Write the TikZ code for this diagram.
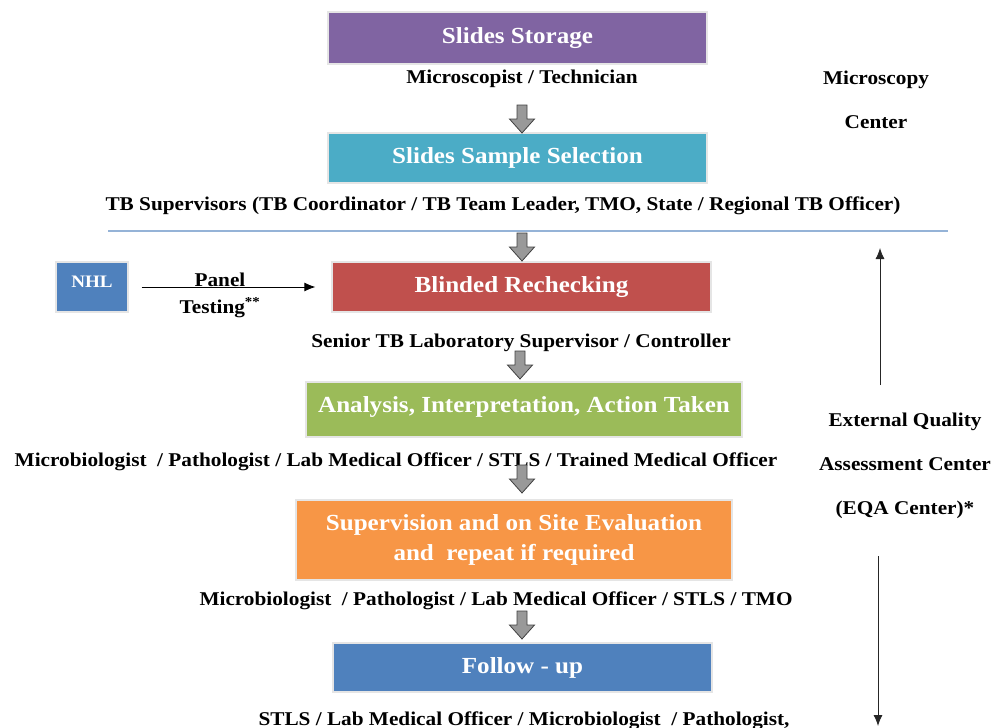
\documentclass[tikz,border=0pt]{standalone}
\usepackage{fontspec}
\setmainfont{Liberation Serif}[FakeStretch=1.09]
\usetikzlibrary{arrows,arrows.meta,positioning}
\definecolor{storagepurple}{HTML}{8064A2}
\definecolor{selectaqua}{HTML}{4BACC6}
\definecolor{blindred}{HTML}{C0504D}
\definecolor{analysisgreen}{HTML}{9BBB59}
\definecolor{supervorange}{HTML}{F79646}
\definecolor{followblue}{HTML}{4F81BD}
\definecolor{ruleblue}{HTML}{95B3D7}
\begin{document}
\begin{tikzpicture}
			[
				x=1pt, y=-1pt,
				box/.style={draw=black!10, line width=1.2pt, text=white, inner sep=0pt,
					align=center, font=\bfseries\fontsize{23}{30}\selectfont},
				role/.style={inner sep=0pt, align=center, font=\bfseries\fontsize{19.5}{22}\selectfont},
				sidelabel/.style={inner sep=0pt, align=center, font=\bfseries\fontsize{19.5}{44}\selectfont},
				blockarrow/.style={fill=black!40, draw=black!75, line width=0.8pt},
				thinarrow/.style={-{Latex[length=11pt,width=9pt]}, line width=0.9pt, black!85}
			]
			\useasboundingbox (0,0) rectangle (996,728);

			% process boxes
			\node[box,fill=storagepurple,minimum width=379,minimum height=52] (storage) at (517.5, 38.0) {Slides Storage};
			\node[box,fill=selectaqua,minimum width=379,minimum height=50] (select) at (517.5,158.0) {Slides Sample Selection};
			\node[box,fill=blindred,minimum width=379,minimum height=50] (blind) at (521.5,287.0) {Blinded Rechecking};
			\node[box,fill=analysisgreen,minimum width=436,minimum height=55,text depth=9] (analysis) at (524.0,409.5) {Analysis, Interpretation, Action Taken};
			\node[box,fill=supervorange,minimum width=436,minimum height=80] (superv) at (514.0,540.0) {Supervision and on Site Evaluation\\and\ \ repeat if required};
			\node[box,fill=followblue,minimum width=379,minimum height=49] (follow) at (522.5,667.5) {Follow - up};
			\node[box,fill=followblue,minimum width=72,minimum height=50,text height=12,text depth=12,
				font=\bfseries\fontsize{17.5}{22}\selectfont] (nhl) at ( 92.0,287.0) {NHL};

			% who does it
			\node[role] (r1) at (522.0, 78.5) {Microscopist / Technician};
			\node[role] (r2) at (503.0,205.5) {TB Supervisors (TB Coordinator / TB Team Leader, TMO, State / Regional TB Officer)};
			\node[role] (r3) at (521.0,342.5) {Senior TB Laboratory Supervisor / Controller};
			\node[role] (r4) at (396.0,461.5) {Microbiologist\ \ / Pathologist / Lab Medical Officer / STLS / Trained Medical Officer};
			\node[role] (r5) at (496.0,600.5) {Microbiologist\ \ / Pathologist / Lab Medical Officer / STLS / TMO};
			\node[role] (r6) at (524.0,720.5) {STLS / Lab Medical Officer / Microbiologist\ \ / Pathologist,};

			% centres on the right
			\node[sidelabel] (micro) at (876.0, 99.5) {Microscopy\\Center};
			\node[sidelabel] (eqa) at (905.0,466.0) {External Quality\\Assessment Center\\(EQA Center)*};

			% separator
			\coordinate (ruleleft) at (108,231);
			\coordinate (ruleright) at (948,231);
			\draw[ruleblue, line width=1.2pt] (ruleleft) -- (ruleright);

			% block arrows between the steps
			\foreach \ax/\ay in {522/105, 522/233, 520/351, 522/465, 522/611}
			\draw[blockarrow] (\ax-5,\ay) -- ++(10,0) -- ++(0,14) -- ++(7.5,0) -- ++(-12.5,14) -- ++(-12.5,-14) -- ++(7.5,0) -- cycle;

			% panel testing
			\draw[thinarrow, black, shorten <=13pt, shorten >=16pt] (nhl) -- (blind)
				node[midway, above=0pt, role, xshift=-10pt] (paneltop) {Panel}
				node[midway, below=10pt, role, xshift=-10pt] (panelbottom) {Testing\textsuperscript{**}};

			% EQA arrows
			\coordinate (upfrom) at (880,385);
			\coordinate (upto) at (880,248);
			\coordinate (downfrom) at (878,556);
			\coordinate (downto) at (878,726);
			\draw[thinarrow] (upfrom) -- (upto);
			\draw[thinarrow] (downfrom) -- (downto);

		\end{tikzpicture}
\end{document}
